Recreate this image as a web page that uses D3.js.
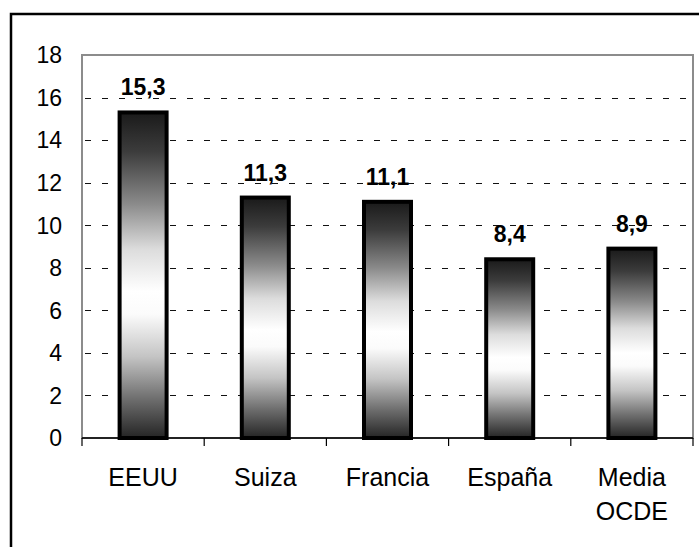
<!DOCTYPE html>
<html><head><meta charset="utf-8">
<script src="https://cdn.jsdelivr.net/npm/d3@7"></script>
<style>body{margin:0;background:#fff}svg{display:block}</style>
</head><body>
<script>
const categories = ["EEUU", "Suiza", "Francia", "España", "Media OCDE"];
const values = [15.3, 11.3, 11.1, 8.4, 8.9];
const valueLabels = ["15,3", "11,3", "11,1", "8,4", "8,9"];
const yTicks = [0, 2, 4, 6, 8, 10, 12, 14, 16, 18];

(function () {
const W = 699, H = 547;
const svg = d3.select("body").append("svg").attr("width", W).attr("height", H);

// outer frame
svg.append("rect").attr("x", 11).attr("y", 14).attr("width", W).attr("height", H)
  .attr("fill", "none").attr("stroke", "#000").attr("stroke-width", 2.5);

const pL = 82, pR = 693, pT = 55, pB = 438;
const x = d3.scaleBand().domain(categories).range([pL, pR]).padding(0);
const y = d3.scaleLinear().domain([0, 18]).range([pB, pT]);

const defs = svg.append("defs");
const g = defs.append("linearGradient").attr("id", "barGrad")
  .attr("x1", 0).attr("y1", 0).attr("x2", 0).attr("y2", 1);
[[0, "#1a1a1a"], [0.12, "#3c3c3c"], [0.28, "#8a8a8a"], [0.42, "#dcdcdc"], [0.55, "#ffffff"],
 [0.62, "#fbfbfb"], [0.75, "#c4c4c4"], [0.88, "#6e6e6e"], [1, "#242424"]]
  .forEach(([o, c]) => g.append("stop").attr("offset", o).attr("stop-color", c));

// plot frame (grey)
svg.append("rect").attr("x", pL).attr("y", pT).attr("width", pR - pL).attr("height", pB - pT)
  .attr("fill", "none").attr("stroke", "#8c8c8c").attr("stroke-width", 2);

// gridlines
svg.append("g").selectAll("line").data(yTicks.filter(d => d > 0 && d < 18)).join("line")
  .attr("x1", pL + 1).attr("x2", pR - 1)
  .attr("y1", d => Math.round(y(d)) + 0.5).attr("y2", d => Math.round(y(d)) + 0.5)
  .attr("stroke", "#111").attr("stroke-width", 1).attr("stroke-dasharray", "6,11")
  .attr("stroke-dashoffset", -2);

// y tick labels
svg.append("g").selectAll("text").data(yTicks).join("text")
  .attr("x", 62).attr("y", d => y(d)).attr("dy", "0.36em")
  .attr("text-anchor", "end").attr("font-family", "Liberation Sans, Arial, sans-serif")
  .attr("font-size", 23).attr("fill", "#000").text(d => d);

// bars
const bw = 47;
svg.append("g").selectAll("rect").data(values).join("rect")
  .attr("x", (d, i) => x(categories[i]) + x.bandwidth() / 2 - bw / 2)
  .attr("y", d => y(d))
  .attr("width", bw)
  .attr("height", d => y(0) - y(d))
  .attr("fill", "url(#barGrad)")
  .attr("stroke", "#000").attr("stroke-width", 4);

// x axis
svg.append("line").attr("x1", pL).attr("x2", pR).attr("y1", pB).attr("y2", pB)
  .attr("stroke", "#000").attr("stroke-width", 1.5);
const boundaries = categories.map(c => x(c)).concat([pR]);
svg.append("g").selectAll("line").data(boundaries).join("line")
  .attr("x1", d => d).attr("x2", d => d).attr("y1", pB).attr("y2", pB + 8)
  .attr("stroke", "#000").attr("stroke-width", 1.2);

// category labels
const catG = svg.append("g").attr("font-family", "Liberation Sans, Arial, sans-serif")
  .attr("font-size", 25).attr("text-anchor", "middle").attr("fill", "#000");
categories.forEach(c => {
  const words = c === "Media OCDE" ? ["Media", "OCDE"] : [c];
  const t = catG.append("text").attr("x", x(c) + x.bandwidth() / 2).attr("y", 486);
  words.forEach((w, k) => t.append("tspan").attr("x", x(c) + x.bandwidth() / 2)
    .attr("dy", k === 0 ? 0 : 34).text(w));
});

// value labels
svg.append("g").selectAll("text").data(values).join("text")
  .attr("x", (d, i) => x(categories[i]) + x.bandwidth() / 2)
  .attr("y", d => y(d) - 17)
  .attr("text-anchor", "middle").attr("font-family", "Liberation Sans, Arial, sans-serif")
  .attr("font-weight", "bold").attr("font-size", 23).attr("fill", "#000")
  .text((d, i) => valueLabels[i]);
})();
</script>
</body></html>
